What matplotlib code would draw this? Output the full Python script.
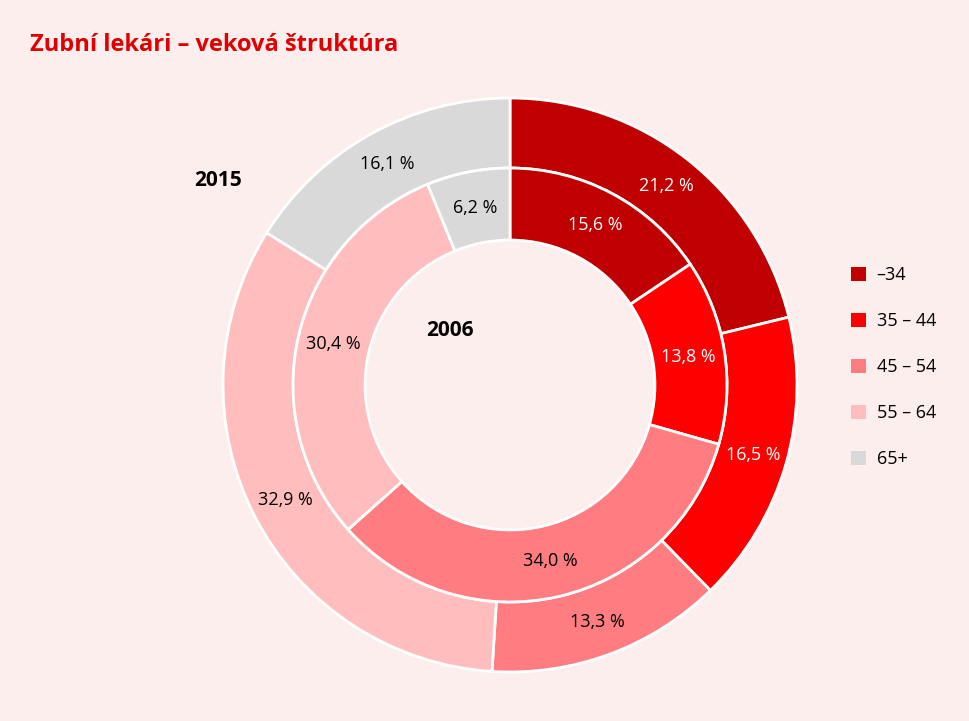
import matplotlib
matplotlib.use("Agg")
import matplotlib.pyplot as plt
import numpy as np
from matplotlib.patches import Patch

categories = ["\u201334", "35 \u2013 44", "45 \u2013 54", "55 \u2013 64", "65+"]
values_2015 = [21.2, 16.5, 13.3, 32.9, 16.1]
values_2006 = [15.6, 13.8, 34.0, 30.4, 6.2]
colors = ["#c00000", "#ff0000", "#ff7c80", "#ffbdbd", "#d9d9d9"]
txtcol = ["white", "white", "black", "black", "black"]
bg = "#fdeeee"
font = "Open Sans"

fig = plt.figure(figsize=(9.7, 7.21), dpi=100, facecolor=bg)
ax = fig.add_axes([(510-287)/970, (721-385-287)/721, 574/970, 574/721])
ax.set_facecolor(bg)
ax.axis("off")

r_out, r_mid, r_in = 1.0, 0.756, 0.505
kw = dict(startangle=90, counterclock=False, colors=colors)
ax.pie(values_2015, radius=r_out, wedgeprops=dict(width=r_out-r_mid, edgecolor="white", linewidth=2), **kw)
ax.pie(values_2006, radius=r_mid, wedgeprops=dict(width=r_mid-r_in, edgecolor="white", linewidth=2), **kw)
ax.set_xlim(-1, 1); ax.set_ylim(-1, 1); ax.set_aspect("equal")

def labels(vals, r):
    cum = 0
    tot = sum(vals)
    for v, c in zip(vals, txtcol):
        mid = 90 - (cum + v/2) / tot * 360
        cum += v
        a = np.deg2rad(mid)
        ax.text(r*np.cos(a), r*np.sin(a), f"{v:.1f} %".replace(".", ","),
                ha="center", va="center", color=c, fontsize=13, family=font)
labels(values_2015, 0.88)
labels(values_2006, 0.63)

fig.text(30/970, 1-45/721, "Zubní lekári \u2013 veková štruktúra", color="#e00000",
         fontsize=17, fontweight="bold", family=font, va="center")
fig.text(218/970, 1-180/721, "2015", fontsize=15, fontweight="bold", family=font, ha="center", va="center")
fig.text(450/970, 1-330/721, "2006", fontsize=15, fontweight="bold", family=font, ha="center", va="center")

handles = [Patch(facecolor=c, label=l) for c, l in zip(colors, categories)]
fig.legend(handles=handles, loc="upper left", bbox_to_anchor=(835/970, 1-250/721),
           frameon=False, prop={"family": font, "size": 13}, labelspacing=1.55,
           handlelength=0.8, handleheight=0.8, handletextpad=0.6)
fig.savefig("out.png", dpi=100, facecolor=bg)
